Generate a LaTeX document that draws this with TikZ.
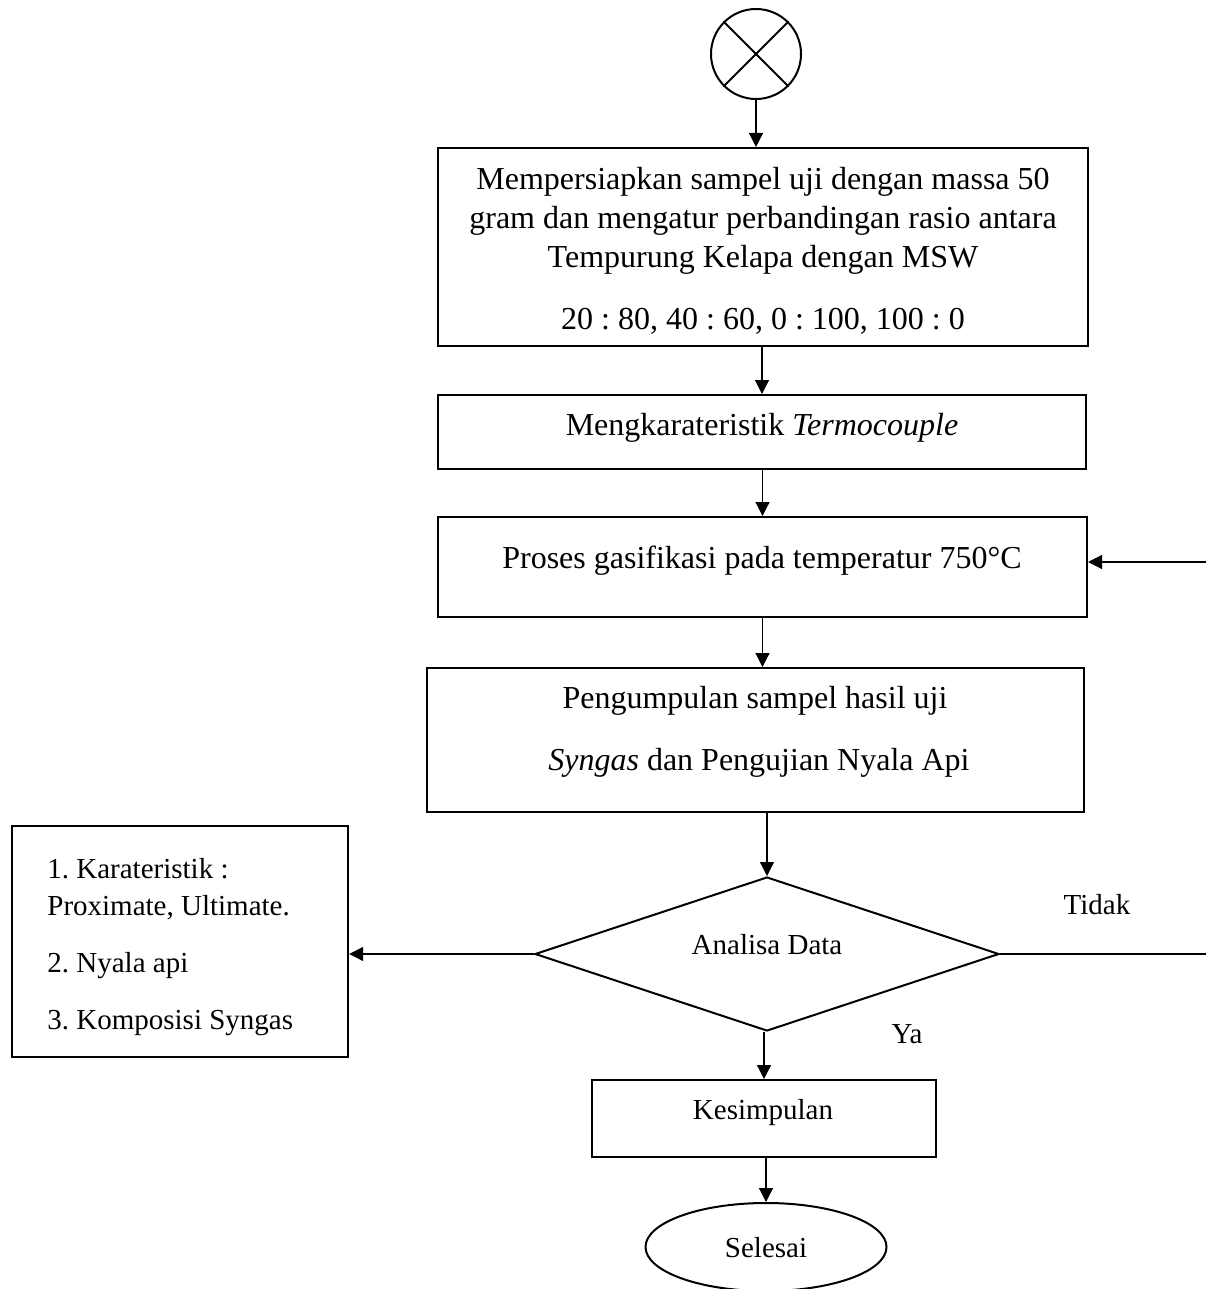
\documentclass[tikz,border=0pt]{standalone}
\usepackage{fontspec}
\setmainfont{Liberation Serif}
\usetikzlibrary{arrows.meta,shapes.geometric}
\newcommand{\fsz}{\fontsize{16}{19}\selectfont\frenchspacing}
\newcommand{\fsm}{\fontsize{14.5}{18}\selectfont\frenchspacing}
\begin{document}
\begin{tikzpicture}[x=0.5pt,y=-0.5pt,
  boxshape/.style={draw, rectangle, line width=1pt, inner sep=0pt},
  lbl/.style={anchor=base, inner sep=0pt, font=\fsz},
  lbs/.style={anchor=base, inner sep=0pt, font=\fsm},
  lbll/.style={anchor=base west, inner sep=0pt, font=\fsm},
  arr/.style={-{Triangle[length=7pt,width=7pt]}, line width=0.6pt},
  ln/.style={line width=0.6pt}]
\useasboundingbox (0,0) rectangle (1206,1289);

% start circle
\node[draw, circle, line width=1pt, minimum size=45pt, inner sep=0pt] (c) at (756,54) {};
\draw[line width=1pt] (c.north west) -- (c.south east) (c.north east) -- (c.south west);

% boxes
\node[boxshape, minimum width=325pt, minimum height=99pt] (b1) at (763,247) {};
\node[lbl] (t1a) at (763,190) {Mempersiapkan sampel uji dengan massa 50};
\node[lbl] (t1b) at (763,228) {gram dan mengatur perbandingan rasio antara};
\node[lbl] (t1c) at (763,267) {Tempurung Kelapa dengan MSW};
\node[lbl] (t1d) at (763,329) {20 : 80, 40 : 60, 0 : 100, 100 : 0};

\node[boxshape, minimum width=324pt, minimum height=37pt] (b2) at (762,432) {};
\node[lbl] (t2) at (762,435) {Mengkarateristik \textit{Termocouple}};

\node[boxshape, minimum width=324.5pt, minimum height=50pt] (b3) at (762.5,567) {};
\node[lbl] (t3) at (762,568) {Proses gasifikasi pada temperatur 750°C};

\node[boxshape, minimum width=328.5pt, minimum height=72pt] (b4) at (755.5,740) {};
\node[lbl] (t4a) at (755,708) {Pengumpulan sampel hasil uji};
\node[lbl] (t4b) at (759,770) {\textit{Syngas} dan Pengujian Nyala Api};

% decision
\node[draw, diamond, line width=1pt, minimum width=232pt, minimum height=77pt, inner sep=0pt] (d) at (767,954) {};
\node[lbs] (td) at (767,954) {Analisa Data};

% left result box
\node[boxshape, line width=1.2pt, minimum width=168pt, minimum height=115.5pt] (lb) at (180,941.5) {};
\node[lbll] (l1) at (47,878) {1. Karateristik :};
\node[lbll] (l2) at (47,915) {Proximate, Ultimate.};
\node[lbll] (l3) at (47,972) {2. Nyala api};
\node[lbll] (l4) at (47,1029) {3. Komposisi Syngas};

% conclusion
\node[boxshape, minimum width=172pt, minimum height=38.5pt] (k) at (764,1118.5) {};
\node[lbs] (tk) at (763,1119) {Kesimpulan};

% end
\node[draw, ellipse, line width=1pt, minimum width=120.5pt, minimum height=44pt, inner sep=0pt] (e) at (766,1247) {};
\node[lbs] (te) at (766,1257) {Selesai};

% branch labels
\node[lbs] (tidak) at (1097,914) {Tidak};
\node[lbs] (ya) at (907,1043) {Ya};

% loop-back ends (outside picture edge)
\coordinate (r1) at (1206,954);
\coordinate (r2) at (1206,562);

% connectors
\draw[arr] (c.south) -- (c.south |- b1.north);
\draw[arr] (b2.north |- b1.south) -- (b2.north);
\draw[arr] (b3.north |- b2.south) -- (b3.north);
\draw[arr] (b3.south) -- (b3.south |- b4.north);
\draw[arr] (d.north |- b4.south) -- (d.north);
\draw[arr] (d.west) -- (d.west -| lb.east);
\draw[ln] (d.east) -- (r1);
\draw[arr] (r2) -- (r2 -| b3.east);
\draw[arr] (k.north |- d.south) -- (k.north);
\draw[arr] (e.north |- k.south) -- (e.north);
\end{tikzpicture}
\end{document}
